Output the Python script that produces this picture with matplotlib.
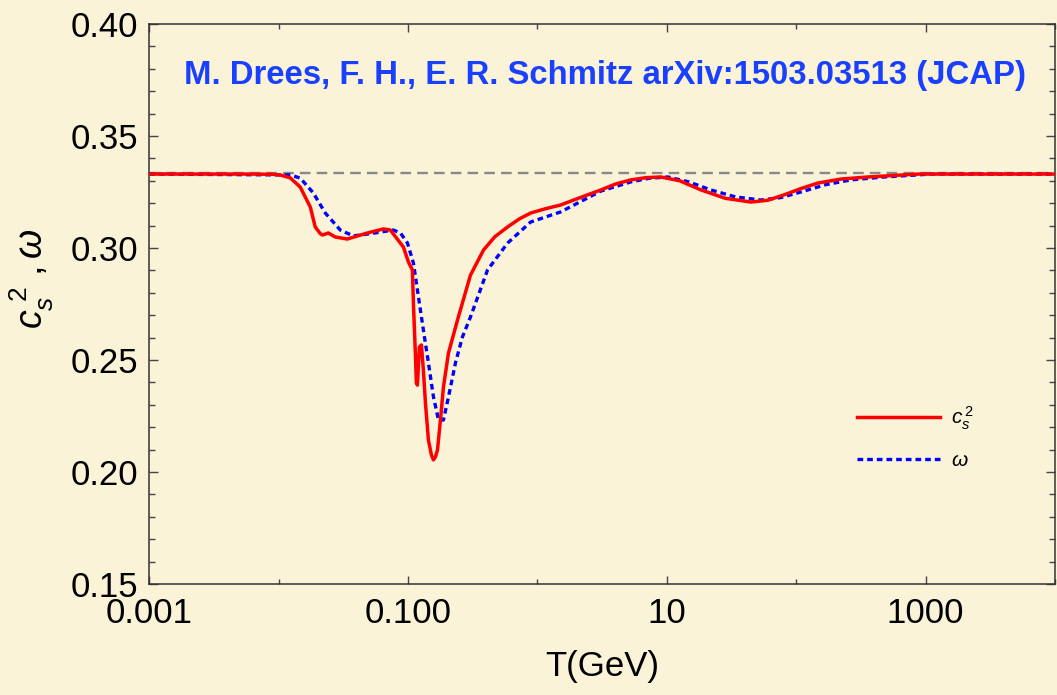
import numpy as np
import matplotlib
matplotlib.use("Agg")
import matplotlib.pyplot as plt
from matplotlib.ticker import FixedLocator, MultipleLocator, NullFormatter

plt.rcParams['font.family'] = ['Liberation Sans', 'DejaVu Sans']
plt.rcParams['mathtext.fontset'] = 'custom'
plt.rcParams['mathtext.rm'] = 'Liberation Sans'
plt.rcParams['mathtext.it'] = 'Liberation Sans:italic'
plt.rcParams['mathtext.bf'] = 'Liberation Sans:bold'

# Temperature grid (log10 of T in GeV) and the sound speed squared c_s^2
log10_T_cs2 = [-3.0, -2.22, -2.05, -1.988, -1.911, -1.834, -1.756, -1.718,
               -1.680, -1.663, -1.640, -1.617, -1.563, -1.470, -1.315, -1.191,
               -1.137, -1.036, -0.998, -0.967, -0.959, -0.944, -0.936, -0.928,
               -0.913, -0.897, -0.882, -0.866, -0.843, -0.820, -0.804, -0.789,
               -0.773, -0.750, -0.727, -0.688, -0.618, -0.518, -0.417, -0.330,
               -0.231, -0.140, -0.053, 0.060, 0.179, 0.330, 0.489, 0.600,
               0.721, 0.840, 0.953, 1.100, 1.260, 1.450, 1.649, 1.780,
               1.905, 2.040, 2.168, 2.350, 2.555, 2.942, 4.0]
cs2 = [0.3330, 0.3330, 0.3329, 0.3326, 0.3313, 0.3272, 0.3183, 0.3094,
       0.3065, 0.3058, 0.3062, 0.3067, 0.3049, 0.3040, 0.3067, 0.3085,
       0.3080, 0.3004, 0.2938, 0.2902, 0.2754, 0.2531, 0.2397, 0.2388,
       0.2558, 0.2567, 0.2455, 0.2308, 0.2143, 0.2076, 0.2054, 0.2067,
       0.2098, 0.2232, 0.2379, 0.2531, 0.2679, 0.2879, 0.2991, 0.3050,
       0.3094, 0.3130, 0.3156, 0.3175, 0.3192, 0.3225, 0.3259, 0.3285,
       0.3304, 0.3314, 0.3317, 0.3300, 0.3260, 0.3222, 0.3205, 0.3213,
       0.3237, 0.3266, 0.3290, 0.3308, 0.3317, 0.3330, 0.3330]

# Equation-of-state parameter omega = p / rho
log10_T_w = [-3.0, -1.910, -1.834, -1.733, -1.640, -1.524, -1.424, -1.315,
             -1.214, -1.113, -1.059, -1.005, -0.959, -0.920, -0.882, -0.843,
             -0.804, -0.765, -0.727, -0.688, -0.634, -0.580, -0.518, -0.386,
             -0.231, -0.053, 0.179, 0.489, 0.721, 0.860, 1.008, 1.170,
             1.341, 1.530, 1.728, 1.880, 2.036, 2.230, 2.423, 2.679,
             3.043, 4.0]
omega = [0.3330, 0.3326, 0.3312, 0.3246, 0.3156, 0.3080, 0.3054, 0.3062,
         0.3071, 0.3080, 0.3067, 0.3022, 0.2933, 0.2781, 0.2634, 0.2487,
         0.2335, 0.2232, 0.2232, 0.2335, 0.2487, 0.2603, 0.2692, 0.2902,
         0.3022, 0.3116, 0.3161, 0.3254, 0.3295, 0.3311, 0.3317, 0.3295,
         0.3259, 0.3228, 0.3214, 0.3225, 0.3250, 0.3283, 0.3304, 0.3317,
         0.3330, 0.3330]

radiation_value = 1.0 / 3.0

x_major = [1e-3, 1e-1, 1e1, 1e3]
x_major_labels = ["0.001", "0.100", "10", "1000"]
x_minor = [1e-2, 1e0, 1e2, 1e4]
y_major = [0.15, 0.20, 0.25, 0.30, 0.35, 0.40]
y_major_labels = ["0.15", "0.20", "0.25", "0.30", "0.35", "0.40"]

bg = '#FAF3D7'
fig = plt.figure(figsize=(10.57, 6.95), dpi=100, facecolor=bg)
ax = fig.add_axes([0.1413, 0.1597, 0.8568, 0.8058], facecolor=bg)

T_cs2 = 10.0 ** np.asarray(log10_T_cs2)
T_w = 10.0 ** np.asarray(log10_T_w)

ax.axhline(radiation_value, color='#888888', lw=1.7, ls=(0, (4.5, 2.6)), zorder=1)
ax.plot(T_w, omega, color='#0000FF', lw=2.4, ls=(0, (1.7, 1.2)),
        solid_joinstyle='round', dash_capstyle='butt', zorder=2, label=r'$\omega$')
ax.plot(T_cs2, cs2, color='#FF0000', lw=2.5, solid_joinstyle='round',
        zorder=3, label=r'$c_s^{\,2}$')

ax.set_xscale('log')
ax.set_xlim(1e-3, 1e4)
ax.set_ylim(0.15, 0.40)

ax.xaxis.set_major_locator(FixedLocator(x_major))
ax.set_xticklabels(x_major_labels)
ax.xaxis.set_minor_locator(FixedLocator(x_minor))
ax.xaxis.set_minor_formatter(NullFormatter())
ax.yaxis.set_major_locator(FixedLocator(y_major))
ax.set_yticklabels(y_major_labels)
ax.yaxis.set_minor_locator(MultipleLocator(0.01))

ax.tick_params(which='both', direction='in', top=True, right=True,
               color='#444444', width=1.0, labelsize=25, labelcolor='black')
ax.tick_params(axis='x', which='major', length=6, pad=9)
ax.tick_params(axis='x', which='minor', length=3.5)
ax.tick_params(axis='y', which='major', length=6.5, pad=8)
ax.tick_params(axis='y', which='minor', length=4.2)
for s in ax.spines.values():
    s.set_color('#333333')
    s.set_linewidth(1.1)

ax.set_xlabel('T(GeV)', fontsize=25)
ax.xaxis.set_label_coords(0.5, -0.118)
ax.xaxis.label.set_verticalalignment('top')
ax.set_ylabel(r'$c_s^{\ 2}\ ,\omega$', fontsize=27)
ax.yaxis.set_label_coords(-0.103, 0.545)

ax.text(0.503, 0.908, 'M. Drees, F. H., E. R. Schmitz arXiv:1503.03513 (JCAP)',
        transform=ax.transAxes, ha='center', va='center', fontsize=23.7,
        fontweight='bold', color='#1A40FF')

handles, labels = ax.get_legend_handles_labels()
leg = ax.legend(handles[::-1], labels[::-1], loc='upper left',
                bbox_to_anchor=(0.781, 0.32), frameon=False, fontsize=15,
                handlelength=4.0, handletextpad=0.55, labelspacing=0.9,
                borderpad=0, borderaxespad=0)

fig.savefig('out.png', dpi=100, facecolor=bg)
